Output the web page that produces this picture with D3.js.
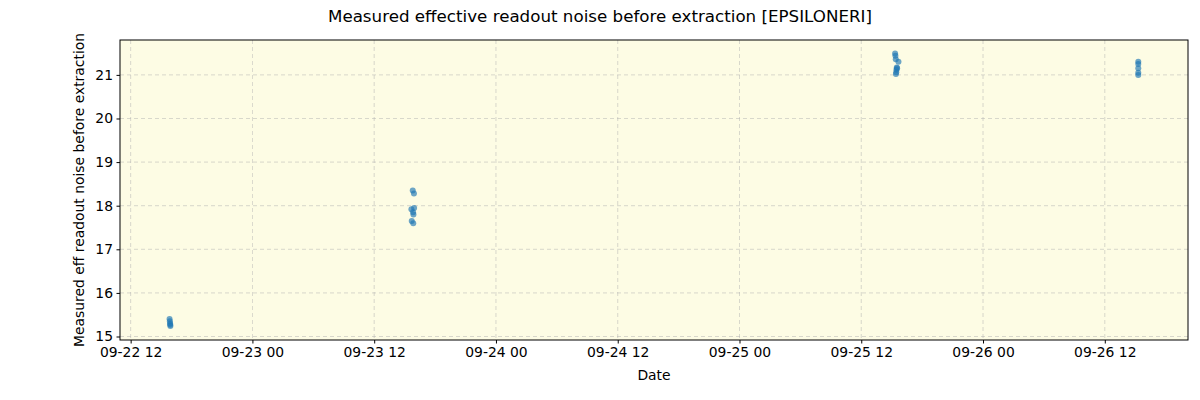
<!DOCTYPE html>
<html><head><meta charset="utf-8">
<script src="https://cdn.jsdelivr.net/npm/d3@7"></script>
<style>body{margin:0;background:#fff;} text{font-family:"DejaVu Sans",sans-serif;}</style>
</head><body><svg id="c" width="1200" height="400"></svg>
<script>
const times = [
 "2023-09-22T15:50","2023-09-22T15:52","2023-09-22T15:53","2023-09-22T15:54","2023-09-22T15:55",
 "2023-09-23T15:48","2023-09-23T15:55","2023-09-23T15:40","2023-09-23T15:56","2023-09-23T15:50","2023-09-23T15:52","2023-09-23T15:42","2023-09-23T15:51",
 "2023-09-25T15:20","2023-09-25T15:22","2023-09-25T15:24","2023-09-25T15:40","2023-09-25T15:30","2023-09-25T15:28","2023-09-25T15:27","2023-09-25T15:25","2023-09-25T15:32",
 "2023-09-26T15:18","2023-09-26T15:18","2023-09-26T15:18","2023-09-26T15:18","2023-09-26T15:18"
];
const values = [
 15.40,15.35,15.30,15.27,15.24,
 18.35,18.28,17.92,17.95,17.85,17.80,17.65,17.60,
 21.49,21.44,21.36,21.30,21.17,21.12,21.06,21.02,21.15,
 21.30,21.25,21.15,21.05,21.00
];
const xTickTimes = ["2023-09-22T12:00","2023-09-23T00:00","2023-09-23T12:00","2023-09-24T00:00","2023-09-24T12:00","2023-09-25T00:00","2023-09-25T12:00","2023-09-26T00:00","2023-09-26T12:00"];
const yTicks = [15,16,17,18,19,20,21];
const xDomain = ["2023-09-22T10:57","2023-09-26T20:12"];
const yDomain = [14.92,21.80];

const parse = d3.isoParse;
const svg = d3.select("#c");
const L=120,R=1188,T=40,B=340;
const x = d3.scaleTime().domain(xDomain.map(parse)).range([L,R]);
const y = d3.scaleLinear().domain(yDomain).range([B,T]);

svg.append("rect").attr("x",L).attr("y",T).attr("width",R-L).attr("height",B-T).attr("fill","#fdfce4");

const g = svg.append("g");
xTickTimes.forEach(t=>{
  g.append("line").attr("x1",x(parse(t))).attr("x2",x(parse(t))).attr("y1",T).attr("y2",B)
   .attr("stroke","#b0b0b0").attr("stroke-width",0.8).attr("stroke-dasharray","4,3").attr("opacity",0.6);
});
yTicks.forEach(v=>{
  g.append("line").attr("x1",L).attr("x2",R).attr("y1",y(v)).attr("y2",y(v))
   .attr("stroke","#b0b0b0").attr("stroke-width",0.8).attr("stroke-dasharray","4,3").attr("opacity",0.6);
});

svg.append("g").selectAll("circle").data(times.map((t,i)=>({t:parse(t),v:values[i]}))).join("circle")
  .attr("cx",d=>x(d.t)).attr("cy",d=>y(d.v)).attr("r",3).attr("fill","#1f77b4").attr("opacity",0.65);

const fmt = d3.timeFormat("%m-%d %H");
const xa = svg.append("g").attr("transform",`translate(0,${B})`)
  .call(d3.axisBottom(x).tickValues(xTickTimes.map(parse)).tickFormat(fmt).tickSize(3.5).tickPadding(3.5));
const ya = svg.append("g").attr("transform",`translate(${L},0)`)
  .call(d3.axisLeft(y).tickValues(yTicks).tickFormat(d3.format("d")).tickSize(3.5).tickPadding(3.5));
[xa,ya].forEach(a=>{a.select(".domain").remove();a.selectAll("text").attr("font-size",13.9).attr("fill","#000").attr("font-family","DejaVu Sans");a.selectAll("line").attr("stroke","#000");});

svg.append("rect").attr("x",L).attr("y",T).attr("width",R-L).attr("height",B-T).attr("fill","none").attr("stroke","#000").attr("stroke-width",1);

svg.append("text").attr("x",600).attr("y",22).attr("text-anchor","middle").attr("font-size",16.7).text("Measured effective readout noise before extraction [EPSILONERI]");
svg.append("text").attr("x",654).attr("y",380).attr("text-anchor","middle").attr("font-size",13.9).text("Date");
svg.append("text").attr("transform",`translate(84,190) rotate(-90)`).attr("text-anchor","middle").attr("font-size",13.9).text("Measured eff readout noise before extraction");
</script></body></html>
